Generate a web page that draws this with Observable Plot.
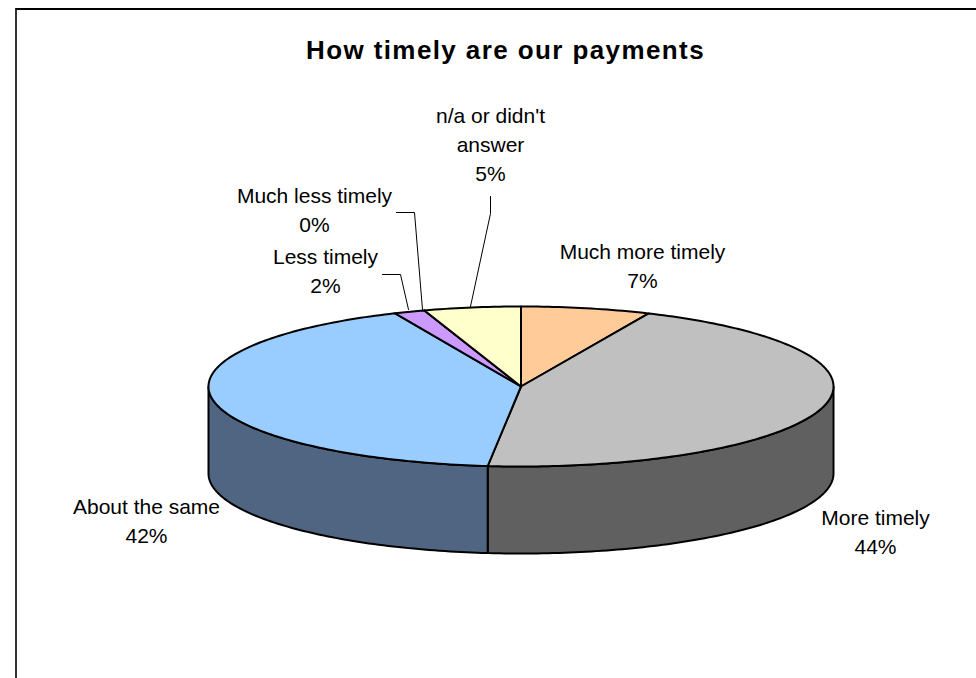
<!DOCTYPE html>
<html>
<head>
<meta charset="utf-8">
<style>
html,body{margin:0;padding:0;background:#fff;overflow:hidden}
#wrap{position:relative;width:976px;height:678px;overflow:hidden}
#frame{position:absolute;left:15px;top:8px;width:980px;height:700px;border-left:2px solid #333;border-top:2px solid #000;box-sizing:border-box;pointer-events:none}
svg{display:block}
.chart-title text{letter-spacing:1.4px}
</style>
<script src="https://cdn.jsdelivr.net/npm/d3@7"></script>
<script src="https://cdn.jsdelivr.net/npm/@observablehq/plot@0.6"></script>
</head>
<body>
<div id="wrap"><div id="chart"></div><div id="frame"></div></div>
<script>
const chartTitle = "How timely are our payments";
const categories = ["Much more timely","More timely","About the same","Less timely","Much less timely","n/a or didn't answer"];
const percentLabels = [7,44,42,2,0,5];
const shares = [6.7,45.0,41.7,1.6,0,5];
const topColors = ["#ffcc99","#c0c0c0","#99ccff","#cc99ff","#ff99cc","#ffffcc"];
const wallColors = ["#7f664d","#606060","#4f6582","#664d7f","#7f4d66","#7f7f66"];
const labelLines = ["Much more timely\n7%","More timely\n44%","About the same\n42%","Less timely\n2%","Much less timely\n0%","n/a or didn't\nanswer\n5%"];

// the pie is a unit circle; the x and y scales squash it into the ellipse
const depth = 1.0875;
const deg = Math.PI / 180;
const PX = {x0: 208, x1: 833, y0: 306, y1: 466};
const ux = p => (p - (PX.x0 + PX.x1) / 2) / ((PX.x1 - PX.x0) / 2);
const uy = p => ((PX.y0 + PX.y1) / 2 - p) / ((PX.y1 - PX.y0) / 2);

const labelAnchors = [[642,264],[875,530],[146,519],[325,269],[314,208],[490,142]];
const leaders = [
  [[382,274],[400,274],[408,309]],
  [[396,212],[414,212],[422,309]],
  [[490,196],[490,213],[470,306]]
];

let acc = 0;
const slices = shares.map((s, i) => {
  const a0 = acc / 100 * 360; acc += s; const a1 = acc / 100 * 360;
  return {i, a0, a1};
});
const rimPoint = (a, dz = 0) => ({x: Math.sin(a * deg), y: Math.cos(a * deg) - dz});
const arc = (a0, a1, dz = 0) => d3.range(a0, a1, 1).concat([a1]).map(a => rimPoint(a, dz));

const wallData = [];
slices.forEach(({i, a0, a1}) => {
  const lo = Math.max(a0, 90), hi = Math.min(a1, 270);
  if (hi <= lo) return;
  const pts = [...arc(lo, hi), ...arc(lo, hi, depth).reverse()];
  pts.push(pts[0]);
  pts.forEach(p => wallData.push({...p, z: "w" + i, fill: wallColors[i]}));
});
const topData = [];
slices.forEach(({i, a0, a1}) => {
  const pts = [{x: 0, y: 0}, ...arc(a0, a1), {x: 0, y: 0}];
  pts.forEach(p => topData.push({...p, z: "t" + i, fill: topColors[i]}));
});
const leaderData = leaders.flatMap((l, k) => l.map(([x, y]) => ({x: ux(x), y: uy(y), z: k})));
const labelData = labelLines.map((t, i) => ({t, x: ux(labelAnchors[i][0]), y: uy(labelAnchors[i][1])}));

const chart = Plot.plot({
  width: 976, height: 678,
  margin: 0,
  style: {fontFamily: "'Liberation Sans', Arial, sans-serif", background: "#fff", color: "#000"},
  x: {axis: null, domain: [-1, 1], range: [PX.x0, PX.x1]},
  y: {axis: null, domain: [-1, 1], range: [PX.y1, PX.y0]},
  marks: [
    Plot.line(wallData, {x: "x", y: "y", z: "z", fill: "fill", stroke: "#000", strokeWidth: 2, curve: "linear"}),
    Plot.line(topData, {x: "x", y: "y", z: "z", fill: "fill", stroke: "#000", strokeWidth: 2, curve: "linear"}),
    Plot.line(leaderData, {x: "x", y: "y", z: "z", stroke: "#000", strokeWidth: 1, curve: "linear"}),
    Plot.text(labelData, {x: "x", y: "y", text: "t", fontSize: 21, lineHeight: 1.38, fill: "#000", textAnchor: "middle", lineAnchor: "middle"}),
    Plot.text([chartTitle], {frameAnchor: "top", dy: 50, lineAnchor: "middle", dx: 17, fontSize: 26, fontWeight: "bold", fill: "#000", className: "chart-title"})
  ]
});
document.getElementById("chart").appendChild(chart);
</script>
</body>
</html>
